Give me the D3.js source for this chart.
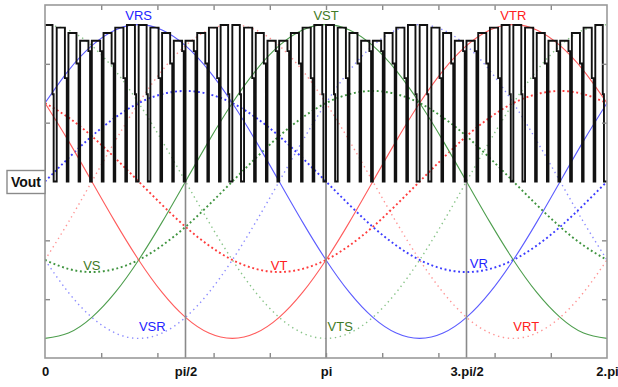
<!DOCTYPE html>
<html>
<head>
<meta charset="utf-8">
<script src="https://cdnjs.cloudflare.com/ajax/libs/d3/7.8.5/d3.min.js"></script>
<style>
  body { margin: 0; background: #fff; }
  text { font-family: "Liberation Sans", Arial, sans-serif; }
</style>
</head>
<body>
<div id="chart"></div>
<script>
// angles in degrees where the curves were read (every 15 deg)
var angleDeg = [0, 15, 30, 45, 60, 75, 90, 105, 120, 135, 150, 165, 180,
                195, 210, 225, 240, 255, 270, 285, 300, 315, 330, 345, 360];

// line-to-line voltages (p.u.)
var VRS = [0.5, 0.707, 0.866, 0.966, 1, 0.966, 0.866, 0.707, 0.5, 0.259, 0, -0.259, -0.5,
           -0.707, -0.866, -0.966, -1, -0.966, -0.866, -0.707, -0.5, -0.259, 0, 0.259, 0.5];
var VST = [-1, -0.966, -0.866, -0.707, -0.5, -0.259, 0, 0.259, 0.5, 0.707, 0.866, 0.966, 1,
           0.966, 0.866, 0.707, 0.5, 0.259, 0, -0.259, -0.5, -0.707, -0.866, -0.966, -1];
var VTR = [0.5, 0.259, 0, -0.259, -0.5, -0.707, -0.866, -0.966, -1, -0.966, -0.866, -0.707, -0.5,
           -0.259, 0, 0.259, 0.5, 0.707, 0.866, 0.966, 1, 0.966, 0.866, 0.707, 0.5];
// reversed line voltages
var VSR = [-0.5, -0.707, -0.866, -0.966, -1, -0.966, -0.866, -0.707, -0.5, -0.259, 0, 0.259, 0.5,
           0.707, 0.866, 0.966, 1, 0.966, 0.866, 0.707, 0.5, 0.259, 0, -0.259, -0.5];
var VTS = [1, 0.966, 0.866, 0.707, 0.5, 0.259, 0, -0.259, -0.5, -0.707, -0.866, -0.966, -1,
           -0.966, -0.866, -0.707, -0.5, -0.259, 0, 0.259, 0.5, 0.707, 0.866, 0.966, 1];
var VRT = [-0.5, -0.259, 0, 0.259, 0.5, 0.707, 0.866, 0.966, 1, 0.966, 0.866, 0.707, 0.5,
           0.259, 0, -0.259, -0.5, -0.707, -0.866, -0.966, -1, -0.966, -0.866, -0.707, -0.5];
// phase voltages
var VR = [0, 0.149, 0.289, 0.408, 0.5, 0.557, 0.577, 0.557, 0.5, 0.408, 0.289, 0.149, 0,
          -0.149, -0.289, -0.408, -0.5, -0.557, -0.577, -0.557, -0.5, -0.408, -0.289, -0.149, 0];
var VS = [-0.5, -0.557, -0.577, -0.557, -0.5, -0.408, -0.289, -0.149, 0, 0.149, 0.289, 0.408, 0.5,
          0.557, 0.577, 0.557, 0.5, 0.408, 0.289, 0.149, 0, -0.149, -0.289, -0.408, -0.5];
var VT = [0.5, 0.408, 0.289, 0.149, 0, -0.149, -0.289, -0.408, -0.5, -0.557, -0.577, -0.557, -0.5,
          -0.408, -0.289, -0.149, 0, 0.149, 0.289, 0.408, 0.5, 0.557, 0.577, 0.557, 0.5];

// Vout PWM: 16 switching periods per 120 deg, the pattern repeats three times
var pulseCount = 48;
var pulseTop  = [0.998, 0.981, 0.947, 0.897, 0.897, 0.947, 0.981, 0.998,
                 0.998, 0.981, 0.947, 0.897, 0.897, 0.947, 0.981, 0.998];
var pulseStep = [0.556, 0.659, 0.752, 0.831, 0.831, 0.752, 0.659, 0.556,
                 0.556, 0.659, 0.752, 0.831, 0.831, 0.752, 0.659, 0.556];
var stepFrac  = [0.1, 0.16, 0.18, 0.14, 0.14, 0.18, 0.16, 0.1,
                 0.1, 0.16, 0.18, 0.14, 0.14, 0.18, 0.16, 0.1];
var notchFrac = [0.26, 0.14, 0.13, 0.15, 0.15, 0.13, 0.14, 0.22,
                 0.22, 0.14, 0.13, 0.15, 0.15, 0.13, 0.14, 0.26];

// axis labels
var xLabelVals = [0, Math.PI / 2, Math.PI, 3 * Math.PI / 2, 2 * Math.PI];
var xLabels = ["0", "pi/2", "pi", "3.pi/2", "2.pi"];
var xGuideVals = [Math.PI / 2, Math.PI, 3 * Math.PI / 2];

// curve names placed in the plot: [text, angle(rad), value, colour]
var curveLabels = [
    ["VRS", 1.047, 1.06, "#2323ff"],
    ["VST", 3.142, 1.06, "#3f7a26"],
    ["VTR", 5.236, 1.06, "#ff2020"],
    ["VS", 0.524, -0.53, "#3f7a26"],
    ["VT", 2.618, -0.53, "#ff2020"],
    ["VR", 4.85, -0.52, "#2323ff"],
    ["VSR", 1.2, -0.92, "#2323ff"],
    ["VTS", 3.3, -0.92, "#3f7a26"],
    ["VRT", 5.38, -0.92, "#ff2020"]
];

///////////////////////////////////////////////////
//////////////// Set the Scales ///////////////////
///////////////////////////////////////////////////
var W = 618, H = 387;
var pL = 45, pR = 607, pT = 5, pB = 358;

var xScale = d3.scaleLinear().domain([0, 2 * Math.PI]).range([pL, pR]);
var yScale = d3.scaleLinear().domain([-1.125, 1.125]).range([pB, pT]);

var svg = d3.select("#chart").append("svg")
    .attr("width", W).attr("height", H);

svg.append("defs").append("clipPath").attr("id", "plotClip")
    .append("rect")
    .attr("x", pL).attr("y", pT)
    .attr("width", pR - pL).attr("height", pB - pT);

var plot = svg.append("g").attr("clip-path", "url(#plotClip)");

var curveFn = d3.line()
    .curve(d3.curveNatural)
    .x(function (d, i) { return xScale(angleDeg[i] * Math.PI / 180); })
    .y(function (d) { return yScale(d); });

// reversed line voltages: light, sparse dots
var sparse = [[VSR, "#8c8cff"], [VTS, "#88c488"], [VRT, "#ff9494"]];
sparse.forEach(function (s) {
    plot.append("path").attr("d", curveFn(s[0]))
        .attr("fill", "none").attr("stroke", s[1])
        .attr("stroke-width", 1.4).attr("stroke-dasharray", "1.4,3.6");
});

// phase voltages: dense dots
var dense = [[VR, "#3c3cff"], [VS, "#3f943f"], [VT, "#ff3c3c"]];
dense.forEach(function (s) {
    plot.append("path").attr("d", curveFn(s[0]))
        .attr("fill", "none").attr("stroke", s[1])
        .attr("stroke-width", 1.9).attr("stroke-dasharray", "1.9,2.7");
});

// line voltages: solid
var solid = [[VRS, "#5c5cff"], [VST, "#4e9e4e"], [VTR, "#ff5c5c"]];
solid.forEach(function (s) {
    plot.append("path").attr("d", curveFn(s[0]))
        .attr("fill", "none").attr("stroke", s[1])
        .attr("stroke-width", 1.1);
});

// vertical guides from zero line down
plot.selectAll(".guide").data(xGuideVals).enter().append("line")
    .attr("class", "guide")
    .attr("x1", function (d) { return xScale(d); })
    .attr("x2", function (d) { return xScale(d); })
    .attr("y1", yScale(0)).attr("y2", pB)
    .attr("stroke", "#8a8a8a").attr("stroke-width", 1.6);

// Vout PWM waveform
var period = 2 * Math.PI / pulseCount;
var vout = [];
d3.range(pulseCount).forEach(function (i) {
    var j = i % pulseTop.length;
    var t0 = i * period;
    var tA = t0 + (1 - stepFrac[j] - notchFrac[j]) * period;
    var tB = tA + stepFrac[j] * period;
    vout.push([t0, 0], [t0, pulseTop[j]], [tA, pulseTop[j]],
              [tA, pulseStep[j]], [tB, pulseStep[j]], [tB, 0], [t0 + period, 0]);
});
var voutFn = d3.line()
    .x(function (d) { return xScale(d[0]); })
    .y(function (d) { return yScale(d[1]); });
plot.append("path").attr("d", voutFn(vout))
    .attr("fill", "none").attr("stroke", "#111")
    .attr("stroke-width", 1.9).attr("stroke-linejoin", "miter");

///////////////////////////////////////////////////
///////////////////// Axes ////////////////////////
///////////////////////////////////////////////////
var tickVals = d3.range(1, 10).map(function (k) { return k * Math.PI / 5; });
var yTickVals = [-0.75, -0.375, 0.375, 0.75];

var axes = [
    [d3.axisBottom(xScale).tickValues(tickVals), "translate(0," + pB + ")"],
    [d3.axisTop(xScale).tickValues(tickVals), "translate(0," + pT + ")"],
    [d3.axisLeft(yScale).tickValues(yTickVals), "translate(" + pL + ",0)"],
    [d3.axisRight(yScale).tickValues(yTickVals), "translate(" + pR + ",0)"]
];
axes.forEach(function (a) {
    var g = svg.append("g").attr("transform", a[1])
        .call(a[0].tickSize(-5).tickFormat(""));
    g.select(".domain").remove();
    g.selectAll("line").attr("stroke", "#8a8a8a").attr("stroke-width", 1.4);
});

// frame
svg.append("rect")
    .attr("x", pL).attr("y", pT)
    .attr("width", pR - pL).attr("height", pB - pT)
    .attr("fill", "none").attr("stroke", "#9a9a9a").attr("stroke-width", 1.6);

// bottom labels
var labelAxis = svg.append("g").attr("transform", "translate(0," + pB + ")")
    .call(d3.axisBottom(xScale).tickValues(xLabelVals)
        .tickFormat(function (d, i) { return xLabels[i]; })
        .tickSize(0).tickPadding(9));
labelAxis.select(".domain").remove();
labelAxis.selectAll("text")
    .attr("font-family", "Liberation Sans, Arial, sans-serif")
    .attr("font-size", 13).attr("font-weight", "bold").attr("fill", "#111");

// Vout box
var vy = yScale(0);
svg.append("rect")
    .attr("x", 7).attr("y", vy - 11).attr("width", 38).attr("height", 23)
    .attr("fill", "#fff").attr("stroke", "#8a8a8a").attr("stroke-width", 1.4);
svg.append("text").text("Vout")
    .attr("x", 26).attr("y", vy + 5)
    .attr("text-anchor", "middle")
    .attr("font-size", 14).attr("font-weight", "bold").attr("fill", "#111");

// curve names
svg.selectAll(".clabel").data(curveLabels).enter().append("text")
    .attr("class", "clabel")
    .attr("x", function (d) { return xScale(d[1]); })
    .attr("y", function (d) { return yScale(d[2]) + 5; })
    .attr("text-anchor", "middle")
    .attr("font-size", 13)
    .attr("fill", function (d) { return d[3]; })
    .text(function (d) { return d[0]; });
</script>
</body>
</html>
